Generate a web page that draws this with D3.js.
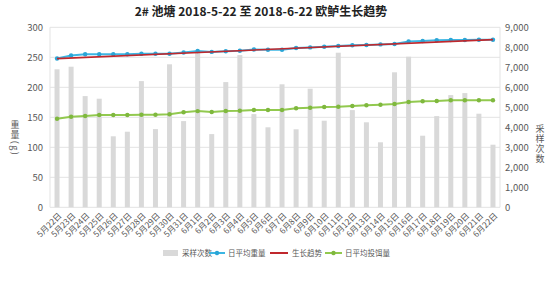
<!DOCTYPE html>
<html>
<head>
<meta charset="utf-8">
<script src="https://d3js.org/d3.v7.min.js"></script>
<style>
  body { margin: 0; background: #fff; }
  text { font-family: "Noto Sans CJK SC", "Liberation Sans", sans-serif; }
</style>
</head>
<body>
<svg width="554" height="296"></svg>
<script>
var dates = ["5月22日","5月23日","5月24日","5月25日","5月26日","5月27日","5月28日","5月29日","5月30日","5月31日",
  "6月1日","6月2日","6月3日","6月4日","6月5日","6月6日","6月7日","6月8日","6月9日","6月10日","6月11日",
  "6月12日","6月13日","6月14日","6月15日","6月16日","6月17日","6月18日","6月19日","6月20日","6月21日","6月22日"];

// 采样次数 (right axis)
var samples = [6900, 7030, 5560, 5430, 3550, 3780, 6310, 3910, 7150, 4310,
  7780, 3660, 6260, 7610, 4660, 4000, 6150, 3900, 5930, 4330, 7730,
  4860, 4250, 3250, 6750, 7530, 3580, 4560, 5610, 5710, 4680, 3130];

// 日平均重量 (g)
var avgWeight = [248, 253, 255, 255, 255, 255, 256, 256, 256, 258,
  260.5, 259, 260, 261, 263, 262.5, 262.5, 265.5, 266.5, 267.5, 268.8,
  270, 270.5, 271.5, 272.2, 276.5, 277.2, 278.3, 278.8, 278.8, 279.3, 279.3];

// 生长趋势 (trend line, start and end)
var trendDates = ["5月22日", "6月22日"];
var trendValues = [247.8, 279.5];

// 日平均投饵量
var avgFeed = [147.7, 151, 152.2, 153.8, 153.8, 153.8, 154.3, 154.3, 155, 158.3,
  160.3, 158.8, 160.5, 161, 162.2, 162.2, 162.2, 165, 166, 167.2, 167.7,
  168.8, 170, 171, 172.2, 175.5, 176.7, 177.2, 178.3, 178.3, 178.3, 178.3];

var leftTicks = [0, 50, 100, 150, 200, 250, 300];
var rightTicks = [0, 1000, 2000, 3000, 4000, 5000, 6000, 7000, 8000, 9000];

var svg = d3.select("svg");
var plotLeft = 50, plotRight = 500, plotTop = 27.3, plotBottom = 207.3;
var labelColor = "#595959";

var x = d3.scaleBand().domain(dates).range([plotLeft, plotRight]);
var yL = d3.scaleLinear().domain([0, 300]).range([plotBottom, plotTop]);
var yR = d3.scaleLinear().domain([0, 9000]).range([plotBottom, plotTop]);

// title
svg.append("text")
  .attr("x", 261).attr("y", 16)
  .attr("text-anchor", "middle")
  .attr("font-size", 12).attr("font-weight", "bold")
  .attr("fill", "#222")
  .text("2# 池塘 2018-5-22 至 2018-6-22 欧鲈生长趋势");

// gridlines
svg.append("g").selectAll("line")
  .data(leftTicks)
  .enter().append("line")
  .attr("x1", plotLeft).attr("x2", plotRight)
  .attr("y1", function(d) { return yL(d); })
  .attr("y2", function(d) { return yL(d); })
  .attr("stroke", "#e3e3e3").attr("stroke-width", 1);

svg.append("line").attr("x1", plotLeft).attr("x2", plotLeft).attr("y1", plotTop).attr("y2", plotBottom)
  .attr("stroke", "#e3e3e3");
svg.append("line").attr("x1", plotRight).attr("x2", plotRight).attr("y1", plotTop).attr("y2", plotBottom)
  .attr("stroke", "#e3e3e3");

// left axis
var axL = svg.append("g")
  .attr("transform", "translate(" + (plotLeft - 7) + ",0)")
  .call(d3.axisLeft(yL).tickValues(leftTicks).tickSize(0).tickPadding(0));
axL.select(".domain").remove();
axL.selectAll("text").attr("font-size", 9.5).attr("fill", labelColor)
  .attr("font-family", "Liberation Sans, sans-serif");

// right axis
var axR = svg.append("g")
  .attr("transform", "translate(" + (plotRight + 5) + ",0)")
  .call(d3.axisRight(yR).tickValues(rightTicks).tickSize(0).tickPadding(0));
axR.select(".domain").remove();
axR.selectAll("text").attr("font-size", 9.5).attr("fill", labelColor)
  .attr("font-family", "Liberation Sans, sans-serif");

// bottom axis labels
var axB = svg.append("g")
  .attr("transform", "translate(0," + plotBottom + ")")
  .call(d3.axisBottom(x).tickSize(0).tickPadding(0));
axB.select(".domain").remove();
axB.selectAll("text")
  .attr("font-size", 8.3).attr("fill", labelColor)
  .attr("text-anchor", "end")
  .attr("dy", "0.35em")
  .attr("transform", "translate(3,7) rotate(-45)");

// axis titles (vertical text)
svg.append("text")
  .attr("x", 15).attr("y", 138)
  .attr("writing-mode", "tb")
  .attr("text-anchor", "middle")
  .attr("font-size", 9).attr("fill", labelColor)
  .attr("letter-spacing", 1.5)
  .text("重量(g)");

svg.append("text")
  .attr("x", 540).attr("y", 144)
  .attr("writing-mode", "tb")
  .attr("text-anchor", "middle")
  .attr("font-size", 9).attr("fill", labelColor)
  .attr("letter-spacing", 1)
  .text("采样次数");

// bars
var barW = 5;
svg.append("g").selectAll("rect")
  .data(samples)
  .enter().append("rect")
  .attr("x", function(d, i) { return x(dates[i]) + x.bandwidth() / 2 - barW / 2; })
  .attr("y", function(d) { return yR(d); })
  .attr("width", barW)
  .attr("height", function(d) { return plotBottom - yR(d); })
  .attr("fill", "#d9d9d9");

function cx(i) { return x(dates[i]) + x.bandwidth() / 2; }

function drawSeries(values, color, markerColor) {
  var line = d3.line()
    .x(function(d, i) { return cx(i); })
    .y(function(d) { return yL(d); });
  svg.append("path").datum(values)
    .attr("d", line).attr("fill", "none")
    .attr("stroke", color).attr("stroke-width", 2);
  svg.append("g").selectAll("circle")
    .data(values)
    .enter().append("circle")
    .attr("cx", function(d, i) { return cx(i); })
    .attr("cy", function(d) { return yL(d); })
    .attr("r", 2.2)
    .attr("fill", markerColor);
}

drawSeries(avgWeight, "#3cb6e3", "#2aa5d6");
drawSeries(avgFeed, "#92c94f", "#7fb83e");

// trend line
svg.append("path").datum(trendValues)
  .attr("d", d3.line()
    .x(function(d, i) { return x(trendDates[i]) + x.bandwidth() / 2; })
    .y(function(d) { return yL(d); }))
  .attr("fill", "none").attr("stroke", "#c0282d").attr("stroke-width", 1.6);

// legend
var legend = svg.append("g").attr("font-size", 7.5).attr("fill", labelColor);
var ly = 253;
legend.append("rect").attr("x", 163).attr("y", ly - 3).attr("width", 15).attr("height", 6).attr("fill", "#d9d9d9");
legend.append("text").attr("x", 182).attr("y", ly).attr("dy", "0.35em").text("采样次数");

legend.append("line").attr("x1", 209).attr("x2", 225).attr("y1", ly).attr("y2", ly)
  .attr("stroke", "#3cb6e3").attr("stroke-width", 2);
legend.append("circle").attr("cx", 217).attr("cy", ly).attr("r", 2.2).attr("fill", "#2aa5d6");
legend.append("text").attr("x", 228).attr("y", ly).attr("dy", "0.35em").text("日平均重量");

legend.append("line").attr("x1", 270).attr("x2", 288).attr("y1", ly).attr("y2", ly)
  .attr("stroke", "#c0282d").attr("stroke-width", 2);
legend.append("text").attr("x", 292).attr("y", ly).attr("dy", "0.35em").text("生长趋势");

legend.append("line").attr("x1", 325).attr("x2", 342).attr("y1", ly).attr("y2", ly)
  .attr("stroke", "#92c94f").attr("stroke-width", 2);
legend.append("circle").attr("cx", 333.5).attr("cy", ly).attr("r", 2.2).attr("fill", "#7fb83e");
legend.append("text").attr("x", 345).attr("y", ly).attr("dy", "0.35em").text("日平均投饵量");
</script>
</body>
</html>
